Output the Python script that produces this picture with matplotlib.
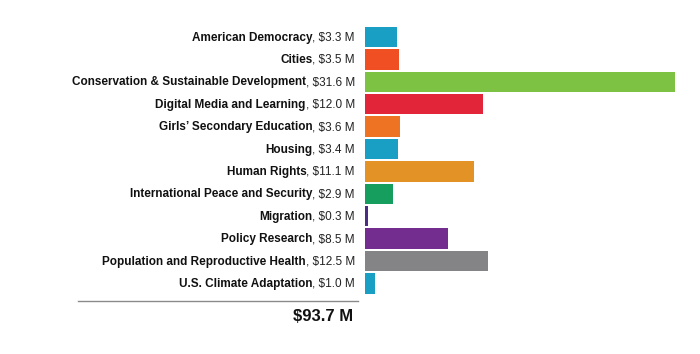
import matplotlib
matplotlib.use("Agg")
import matplotlib.pyplot as plt

categories = [
    "American Democracy",
    "Cities",
    "Conservation & Sustainable Development",
    "Digital Media and Learning",
    "Girls\u2019 Secondary Education",
    "Housing",
    "Human Rights",
    "International Peace and Security",
    "Migration",
    "Policy Research",
    "Population and Reproductive Health",
    "U.S. Climate Adaptation",
]
values = [3.3, 3.5, 31.6, 12.0, 3.6, 3.4, 11.1, 2.9, 0.3, 8.5, 12.5, 1.0]
colors = [
    "#1a9fc4", "#f04e23", "#7dc242", "#e3253a", "#ee7423", "#1a9fc4",
    "#e39226", "#159e5e", "#4b2e83", "#722d8f", "#848486", "#1a9fc4",
]
total_label = "$93.7 M"

plt.rcParams["font.family"] = ["Liberation Sans", "DejaVu Sans"]

W, H = 700, 354
fig = plt.figure(figsize=(W / 100, H / 100), dpi=100)

# bars area: x starts at 365 px, 0..31.6 spans 310 px
px_per_unit = 310 / 31.6
ax_left = 365
ax_right = W
row_top, row_bottom = 37, 283.5
step = (row_bottom - row_top) / (len(values) - 1)
top = row_top - step / 2
bottom = row_bottom + step / 2
ax = fig.add_axes([ax_left / W, 1 - bottom / H, (ax_right - ax_left) / W, (bottom - top) / H])

y = list(range(len(values)))
ax.barh(y, values, height=0.91, color=colors, edgecolor="none")
ax.set_xlim(0, (ax_right - ax_left) / px_per_unit)
ax.set_ylim(len(values) - 0.5, -0.5)
ax.axis("off")

renderer = fig.canvas.get_renderer()
label_x_px = 355
fs = 8.5
for i, (name, val) in enumerate(zip(categories, values)):
    yd = ax.transData.transform((0, i))[1] + 1
    amt = fig.text(label_x_px / W, yd / H, f", ${val:.1f} M", ha="right",
                   va="center_baseline", fontsize=fs, color="#222222")
    bb = amt.get_window_extent(renderer=renderer)
    fig.text(bb.x0 / W, yd / H, name, ha="right", va="center_baseline",
             fontsize=fs, fontweight="bold", color="#111111")

# total line and label
fig.add_artist(plt.Line2D([78 / W, 358 / W], [1 - 301 / H, 1 - 301 / H],
                          color="#8a8a8a", linewidth=1.0))
fig.text(353 / W, 1 - 315 / H, total_label, ha="right", va="center_baseline",
         fontsize=12, fontweight="bold", color="#111111")

fig.savefig("out.png", dpi=100)
